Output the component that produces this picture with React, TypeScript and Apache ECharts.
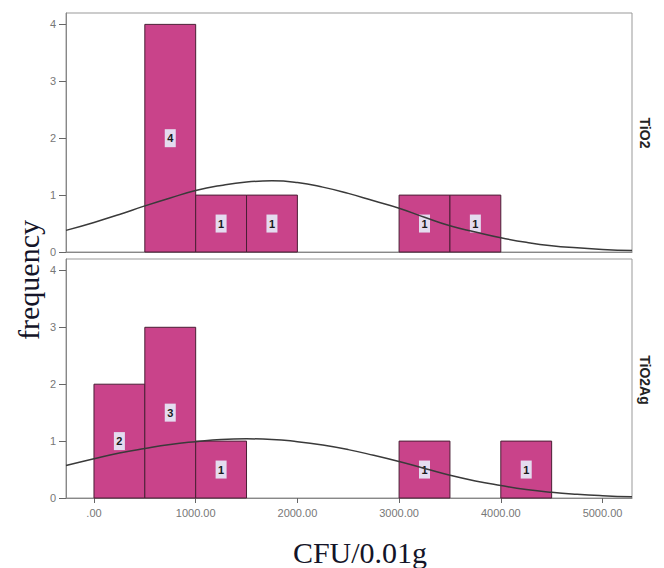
import React, { useEffect, useRef } from "react";
import * as echarts from "echarts";

// Histogram bins: [binStart, binEnd, count]
const tio2Bins: [number, number, number][] = [
  [500, 1000, 4],
  [1000, 1500, 1],
  [1500, 2000, 1],
  [3000, 3500, 1],
  [3500, 4000, 1],
];
const tio2AgBins: [number, number, number][] = [
  [0, 500, 2],
  [500, 1000, 3],
  [1000, 1500, 1],
  [3000, 3500, 1],
  [4000, 4500, 1],
];

// Normal curve readings (x, frequency)
const curveX = [-275, 0, 250, 500, 750, 1000, 1250, 1500, 1750, 2000, 2250, 2500, 2750, 3000, 3250, 3500, 3750, 4000, 4250, 4500, 4750, 5000, 5290];
const tio2Curve = [0.38, 0.52, 0.66, 0.81, 0.95, 1.08, 1.17, 1.23, 1.25, 1.22, 1.14, 1.03, 0.9, 0.77, 0.61, 0.46, 0.35, 0.25, 0.17, 0.11, 0.073, 0.045, 0.025];
const tio2AgCurve = [0.57, 0.69, 0.79, 0.87, 0.94, 0.99, 1.03, 1.04, 1.03, 0.99, 0.93, 0.85, 0.75, 0.64, 0.52, 0.4, 0.3, 0.22, 0.15, 0.1, 0.065, 0.04, 0.02];

const xTicks = [0, 1000, 2000, 3000, 4000, 5000];
const yTicks = [0, 1, 2, 3, 4];
const panelNames = ["TiO2", "TiO2Ag"];

const BAR = "#c9438a";

function renderBar(params: any, api: any) {
  const x0 = api.value(0);
  const x1 = api.value(1);
  const c = api.value(2);
  const p0 = api.coord([x0, c]);
  const p1 = api.coord([x1, 0]);
  const mid = api.coord([(x0 + x1) / 2, c / 2]);
  return {
    type: "group",
    children: [
      {
        type: "rect",
        shape: { x: p0[0], y: p0[1], width: p1[0] - p0[0], height: p1[1] - p0[1] },
        style: { fill: BAR, stroke: "#4a1f35", lineWidth: 1 },
      },
      {
        type: "rect",
        shape: { x: mid[0] - 5.5, y: mid[1] - 9, width: 11, height: 18 },
        style: { fill: "#e4dcef" },
      },
      {
        type: "text",
        x: mid[0],
        y: mid[1],
        style: {
          text: String(c),
          fill: "#1a1a1a",
          font: "bold 11px Arial, 'Liberation Sans', sans-serif",
          align: "center",
          verticalAlign: "middle",
        },
      },
    ],
  };
}

export default function App() {
  const ref = useRef<HTMLDivElement>(null);
  useEffect(() => {
    if (!ref.current) return;
    const chart = echarts.init(ref.current, undefined, { renderer: "svg" });
    const axisLabelStyle = { color: "#777", fontSize: 11, fontFamily: "Arial, 'Liberation Sans', sans-serif" };
    const mkX = (idx: number, showLabels: boolean) => ({
      type: "value",
      gridIndex: idx,
      min: -275,
      max: 5290,
      axisLine: { show: true, onZero: false, lineStyle: { color: "#888", width: 1 } },
      axisTick: { show: showLabels, length: 5, customValues: xTicks, lineStyle: { color: "#666" } },
      axisLabel: {
        show: showLabels,
        customValues: xTicks,
        margin: 9,
        ...axisLabelStyle,
        formatter: (v: number) => (v === 0 ? ".00" : v.toFixed(2)),
      },
      splitLine: { show: false },
    });
    const mkY = (idx: number) => ({
      type: "value",
      gridIndex: idx,
      min: 0,
      max: 4.2,
      axisLine: { show: true, onZero: false, lineStyle: { color: "#888", width: 1 } },
      axisTick: { show: true, length: 7, customValues: yTicks, lineStyle: { color: "#666" } },
      axisLabel: { show: true, customValues: yTicks, margin: 10, ...axisLabelStyle },
      splitLine: { show: false },
    });
    const panelFont = "bold 14px Arial, 'Liberation Sans', sans-serif";
    chart.setOption({
      animation: false,
      backgroundColor: "#fff",
      grid: [
        { left: 66, width: 566, top: 13, height: 239, show: true, borderColor: "#999", borderWidth: 1, backgroundColor: "#fff" },
        { left: 66, width: 566, top: 259, height: 239, show: true, borderColor: "#999", borderWidth: 1, backgroundColor: "#fff" },
      ],
      xAxis: [mkX(0, false), mkX(1, true)],
      yAxis: [mkY(0), mkY(1)],
      series: [
        {
          type: "custom",
          xAxisIndex: 0,
          yAxisIndex: 0,
          renderItem: renderBar,
          encode: { x: [0, 1], y: 2 },
          data: tio2Bins,
          z: 2,
        },
        {
          type: "custom",
          xAxisIndex: 1,
          yAxisIndex: 1,
          renderItem: renderBar,
          encode: { x: [0, 1], y: 2 },
          data: tio2AgBins,
          z: 2,
        },
        {
          type: "line",
          xAxisIndex: 0,
          yAxisIndex: 0,
          data: curveX.map((x, i) => [x, tio2Curve[i]]),
          smooth: true,
          showSymbol: false,
          lineStyle: { color: "#3a3a3a", width: 1.5 },
          z: 5,
        },
        {
          type: "line",
          xAxisIndex: 1,
          yAxisIndex: 1,
          data: curveX.map((x, i) => [x, tio2AgCurve[i]]),
          smooth: true,
          showSymbol: false,
          lineStyle: { color: "#3a3a3a", width: 1.5 },
          z: 5,
        },
      ],
      graphic: [
        {
          type: "text",
          x: 645,
          y: 133,
          rotation: -Math.PI / 2,
          style: { text: panelNames[0], fill: "#222", font: panelFont, align: "center", verticalAlign: "middle" },
        },
        {
          type: "text",
          x: 645,
          y: 380,
          rotation: -Math.PI / 2,
          style: { text: panelNames[1], fill: "#222", font: panelFont, align: "center", verticalAlign: "middle" },
        },
        {
          type: "text",
          x: 28,
          y: 280,
          rotation: Math.PI / 2,
          style: {
            text: "frequency",
            fill: "#141428",
            font: "30px 'Liberation Serif', 'Times New Roman', serif",
            align: "center",
            verticalAlign: "middle",
          },
        },
        {
          type: "text",
          x: 360,
          y: 552,
          style: {
            text: "CFU/0.01g",
            fill: "#141428",
            font: "30px 'Liberation Serif', 'Times New Roman', serif",
            align: "center",
            verticalAlign: "middle",
          },
        },
      ],
    });
    return () => chart.dispose();
  }, []);
  return <div ref={ref} style={{ width: 664, height: 568, position: "absolute", left: 0, top: 0 }} />;
}
